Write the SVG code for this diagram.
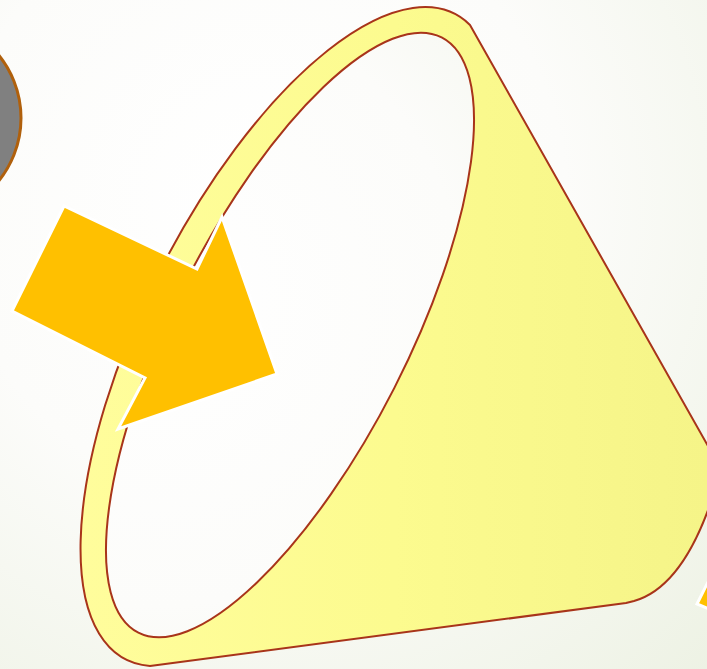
<svg xmlns="http://www.w3.org/2000/svg" width="707" height="669" viewBox="0 0 707 669">
  <defs>
    <radialGradient id="bg" gradientUnits="userSpaceOnUse" cx="260" cy="200" r="680">
      <stop offset="0" stop-color="#FFFFFF"/>
      <stop offset="0.45" stop-color="#FCFCFA"/>
      <stop offset="1" stop-color="#ECF1E2"/>
    </radialGradient>
    <linearGradient id="yel" gradientUnits="userSpaceOnUse" x1="80" y1="0" x2="707" y2="0">
      <stop offset="0" stop-color="#FFFD9C"/>
      <stop offset="0.5" stop-color="#FCFB8F"/>
      <stop offset="1" stop-color="#F5F488"/>
    </linearGradient>
    <style>
      .edge { stroke: #A8341A; stroke-width: 2; stroke-linejoin: round; }
      .arrow { fill: #FFC000; stroke: #FFFFFF; stroke-width: 3; stroke-linejoin: miter; }
    </style>
  </defs>
  <rect id="background" x="0" y="0" width="707" height="669" fill="url(#bg)"/>
  <g id="circle">
    <circle cx="-79" cy="118" r="100" fill="#808080" stroke="#B0600C" stroke-width="3"/>
  </g>
  <g id="funnel">
    <path class="edge" fill="url(#yel)" d="M 150 666 A 362 146 -63 0 1 160 270.7 A 362 146 -63 0 1 470 25 L 721 469 C 714 495 690 585 634 601 Q 630 602 626 603 L 150 666 Z"/>
    <ellipse class="edge" fill="url(#bg)" cx="290" cy="335" rx="334" ry="117" transform="rotate(-63 290 335)"/>
  </g>
  <g id="arrow-main">
    <polygon class="arrow" points="64,206 12,311 145,378 118,429 277,374 222,217 197,269"/>
  </g>
  <g id="arrow-right">
    <polygon class="arrow" points="697,604 716,566 716,612"/>
  </g>
</svg>
